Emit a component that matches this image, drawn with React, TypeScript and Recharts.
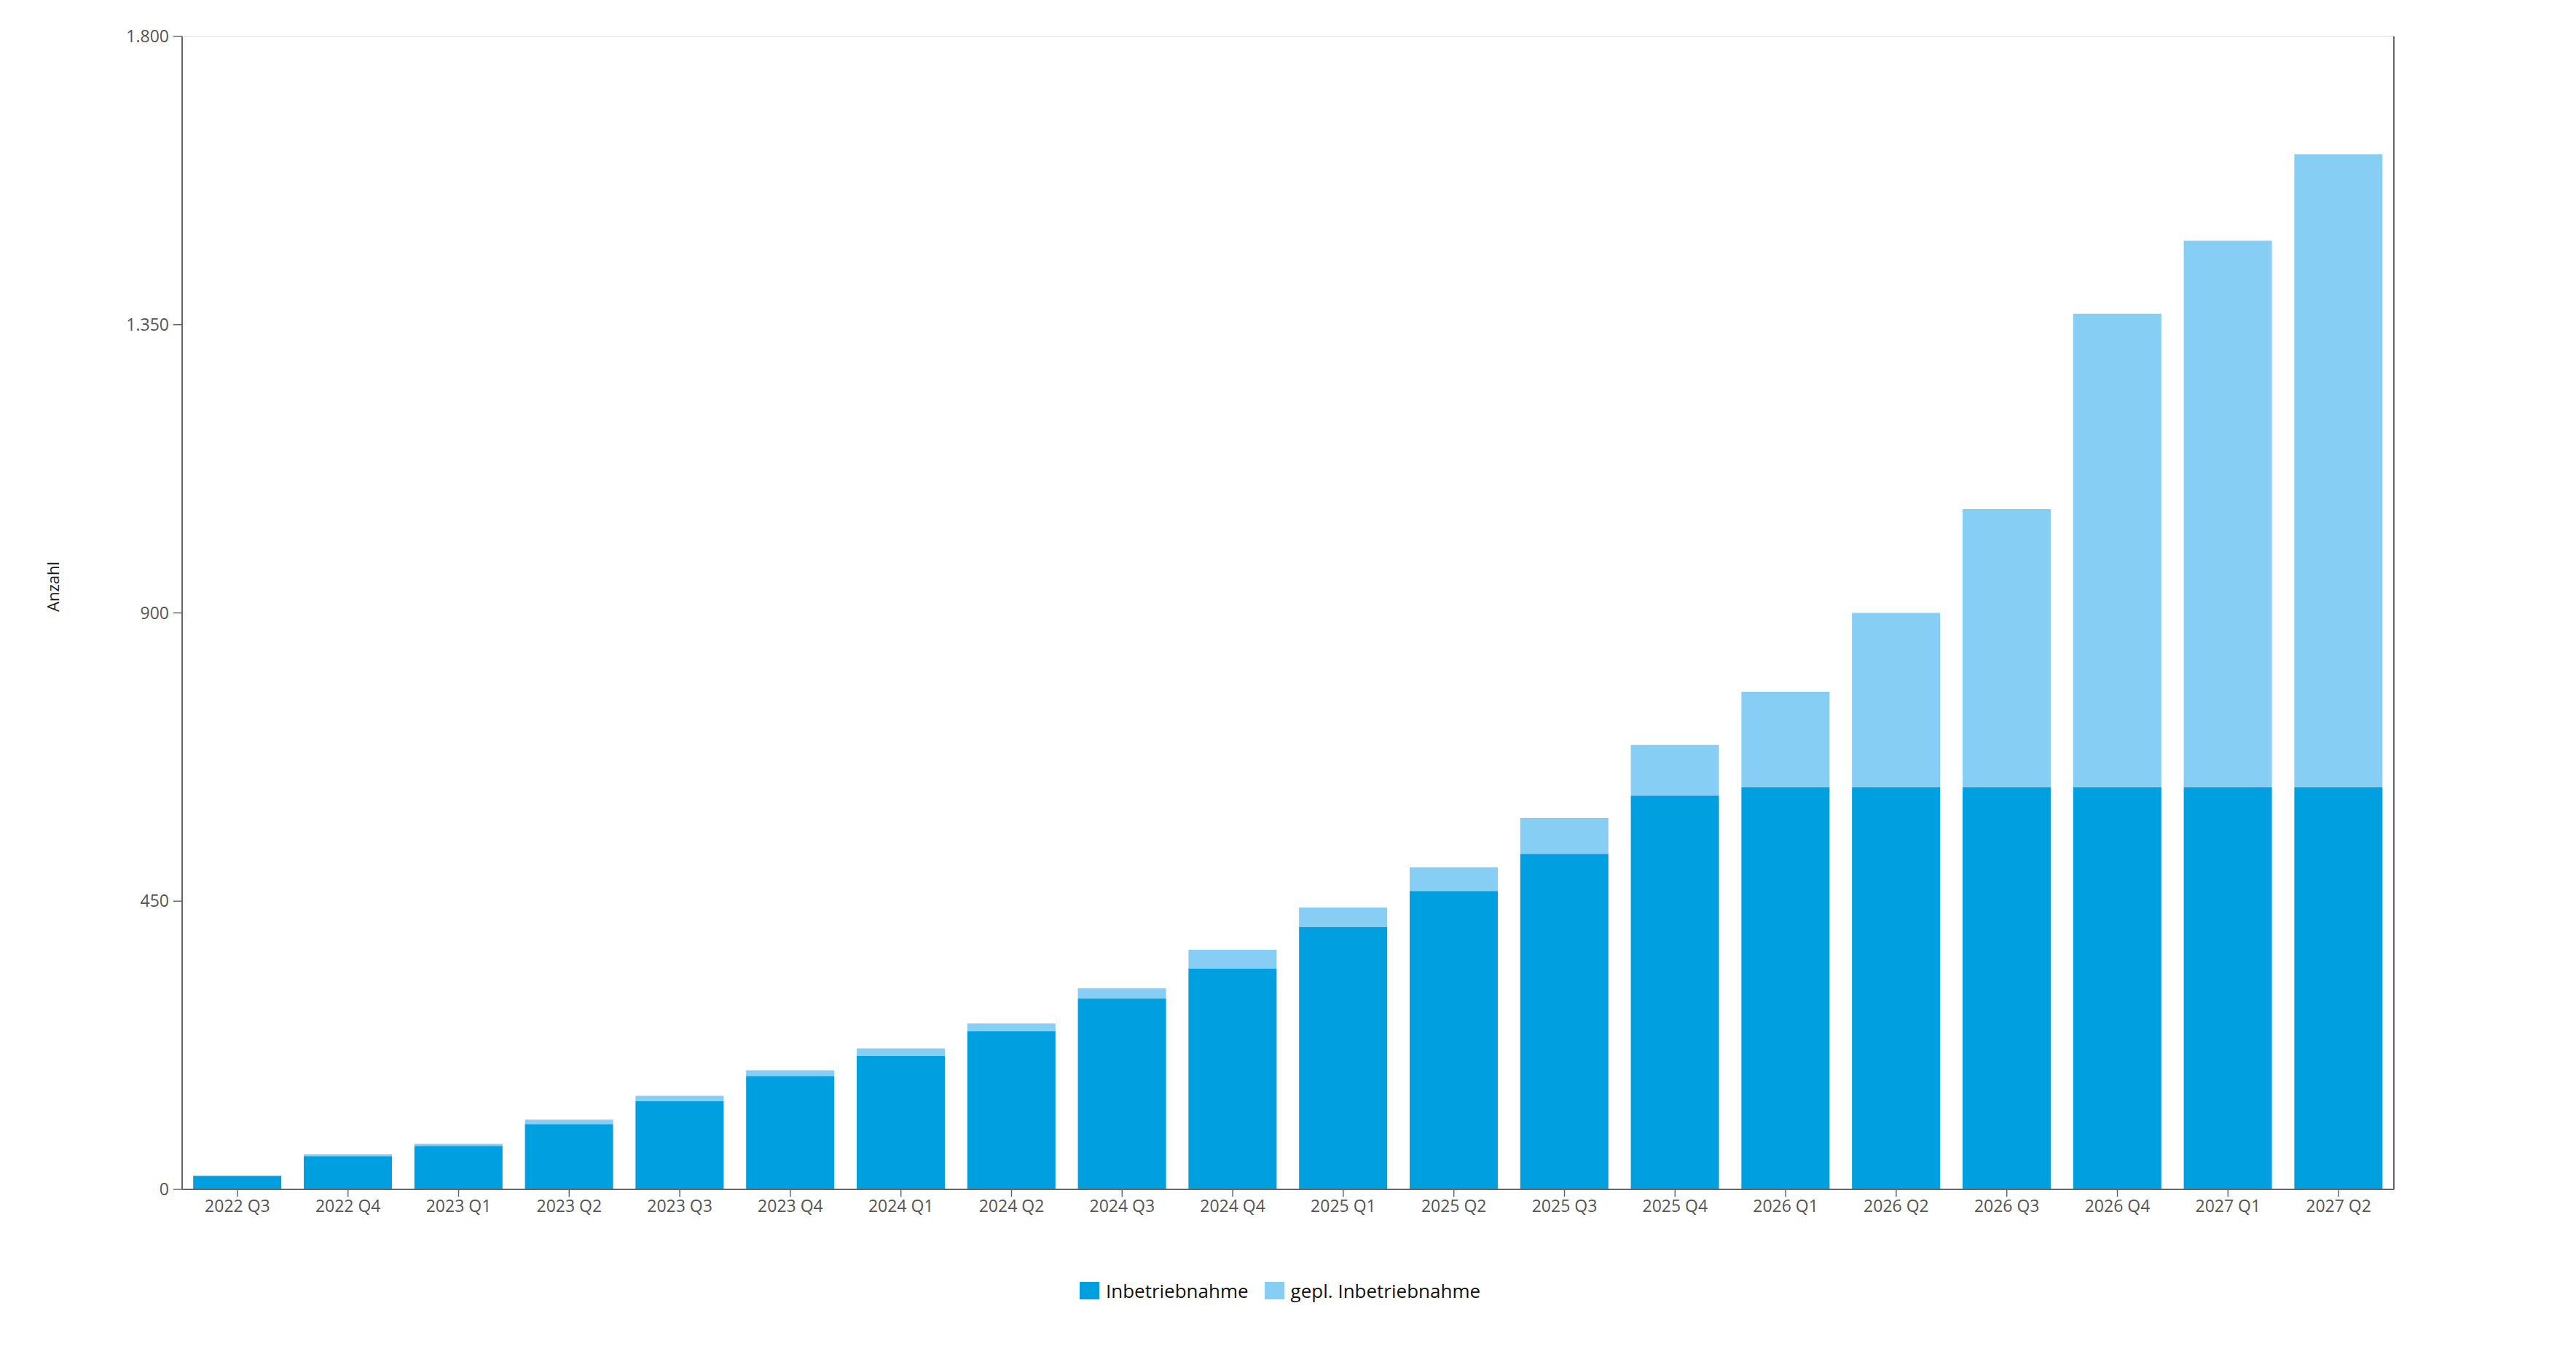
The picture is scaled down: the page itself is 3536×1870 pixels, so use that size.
import React from 'react';
import { BarChart, Bar, XAxis, YAxis, Legend, ReferenceLine } from 'recharts';

const categories = [
  '2022 Q3', '2022 Q4', '2023 Q1', '2023 Q2', '2023 Q3', '2023 Q4',
  '2024 Q1', '2024 Q2', '2024 Q3', '2024 Q4', '2025 Q1', '2025 Q2',
  '2025 Q3', '2025 Q4', '2026 Q1', '2026 Q2', '2026 Q3', '2026 Q4',
  '2027 Q1', '2027 Q2',
];
const inbetriebnahme = [21, 52, 68, 102, 138, 177, 208, 247, 298, 345, 410, 466, 524, 615, 628, 628, 628, 628, 628, 628];
const geplant = [1, 3, 3, 7, 8, 9, 12, 12, 16, 29, 30, 37, 56, 79, 149, 272, 434, 739, 853, 988];
const yTicks = [0, 450, 900, 1350, 1800];

const SERIES_A = 'Inbetriebnahme';
const SERIES_B = 'gepl. Inbetriebnahme';
const COLOR_A = '#009fe0';
const COLOR_B = '#87cef5';
const FONT = '"Open Sans", "Noto Sans", sans-serif';

const data = categories.map((c, i) => ({
  name: c,
  [SERIES_A]: inbetriebnahme[i],
  [SERIES_B]: geplant[i],
}));

const fmt = (v: number) => String(v).replace(/\B(?=(\d{3})+(?!\d))/g, '.');

const AnzahlLabel = (props: any) => {
  const vb = props.viewBox || { x: 0, y: 42, width: 242, height: 1583 };
  const cx = vb.x + 64;
  const cy = vb.y + vb.height / 2 - 36;
  return (
    <text
      x={cx}
      y={cy}
      transform={`rotate(-90, ${cx}, ${cy})`}
      textAnchor="middle"
      dominantBaseline="central"
      fontSize={22}
      fontFamily={FONT}
      fill="#1a1a1a"
    >
      Anzahl
    </text>
  );
};

const LegendContent = (props: any) => {
  const payload = props.payload || [];
  return (
    <div
      style={{
        display: 'flex',
        justifyContent: 'center',
        alignItems: 'center',
        height: 40,
        fontFamily: FONT,
        fontSize: 26,
        color: '#111',
        paddingRight: 22,
      }}
    >
      {payload.map((p: any, i: number) => (
        <div
          key={i}
          style={{ display: 'flex', alignItems: 'center', marginRight: i < payload.length - 1 ? 22 : 0 }}
        >
          <span style={{ display: 'inline-block', width: 27, height: 24, background: p.color, marginRight: 9 }} />
          <span style={{ lineHeight: '40px' }}>{p.value}</span>
        </div>
      ))}
    </div>
  );
};

export default function App() {
  return (
    <div style={{ width: 3520, height: 1850 }}>
      <BarChart
        width={3520}
        height={1850}
        data={data}
        margin={{ top: 42, right: 241, left: 0, bottom: 66 }}
        barCategoryGap="10%"
        style={{ fontFamily: FONT }}
      >
        <XAxis
          dataKey="name"
          height={119}
          tickSize={10}
          tickMargin={5}
          interval={0}
          axisLine={{ stroke: '#666', strokeWidth: 2 }}
          tickLine={{ stroke: '#666', strokeWidth: 1.5 }}
          tick={{ fill: '#555', fontSize: 23, fontFamily: FONT }}
        />
        <YAxis
          yAxisId="left"
          width={242}
          domain={[0, 1800]}
          ticks={yTicks}
          interval={0}
          tickFormatter={fmt}
          tickSize={12}
          tickMargin={6}
          axisLine={{ stroke: '#666', strokeWidth: 2 }}
          tickLine={{ stroke: '#666', strokeWidth: 1.5 }}
          tick={{ fill: '#555', fontSize: 23, fontFamily: FONT }}
          label={{ value: 'Anzahl', content: AnzahlLabel }}
        />
        <YAxis
          yAxisId="right"
          orientation="right"
          width={1}
          domain={[0, 1800]}
          ticks={yTicks}
          tick={false}
          tickLine={false}
          axisLine={{ stroke: '#666', strokeWidth: 2 }}
        />
        <ReferenceLine yAxisId="left" y={1800} stroke="#ececec" strokeWidth={2} />
        <Bar dataKey={SERIES_A} name={SERIES_A} stackId="a" fill={COLOR_A} yAxisId="left" isAnimationActive={false} />
        <Bar dataKey={SERIES_B} name={SERIES_B} stackId="a" fill={COLOR_B} yAxisId="left" isAnimationActive={false} />
        <Legend
          verticalAlign="bottom"
          align="center"
          content={LegendContent}
          wrapperStyle={{ left: 0, width: 3520 }}
        />
      </BarChart>
    </div>
  );
}
